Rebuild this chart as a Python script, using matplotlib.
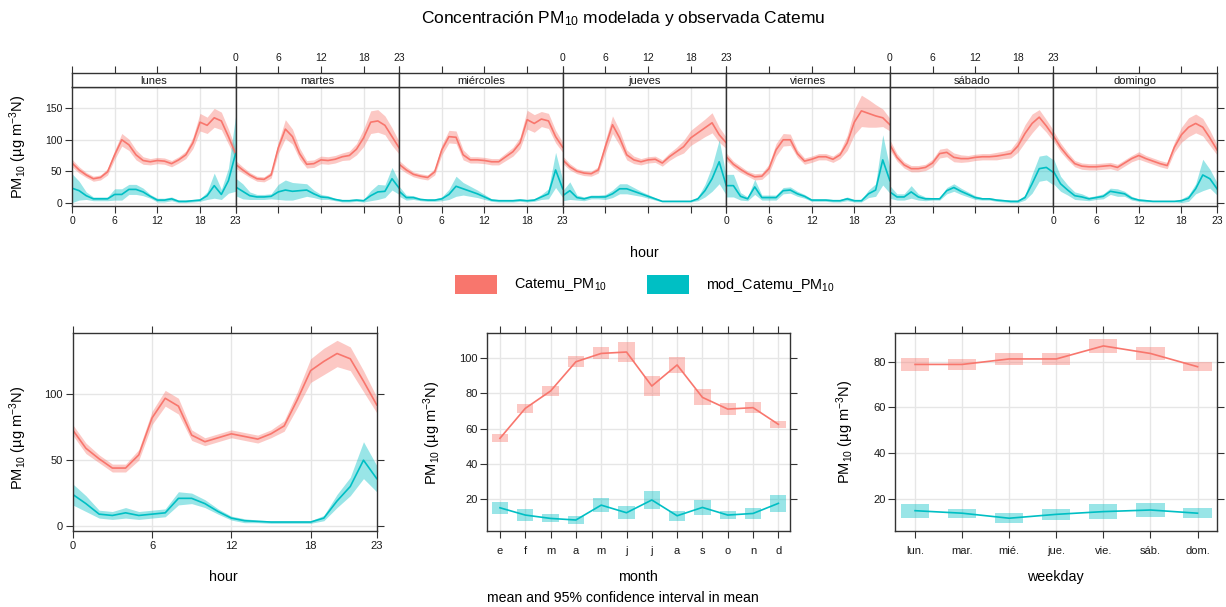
import matplotlib
matplotlib.use("Agg")
import matplotlib.pyplot as plt
from matplotlib.patches import Rectangle
import numpy as np

plt.rcParams['font.family'] = ['Liberation Sans', 'DejaVu Sans']
plt.rcParams['mathtext.fontset'] = 'custom'
plt.rcParams['mathtext.rm'] = 'Liberation Sans'
plt.rcParams['mathtext.it'] = 'Liberation Sans:italic'
plt.rcParams['mathtext.bf'] = 'Liberation Sans:bold'

RED = '#F8766D'
CYAN = '#00BFC4'
BORDER = '#333333'
GRID = '#E6E6E6'

# ---------------- data ----------------
hours = list(range(24))
day_names = ['lunes', 'martes', 'miércoles', 'jueves', 'viernes', 'sábado', 'domingo']

obs_lun = [63, 52, 44, 38, 40, 49, 76, 100, 92, 76, 67, 65, 67, 66, 62, 68, 76, 95, 128, 123, 135, 130, 105, 78]
mod_lun = [23, 19, 11, 6, 6, 6, 13, 13, 21, 21, 17, 10, 4, 4, 6, 2, 2, 3, 4, 11, 27, 13, 35, 78]
obs_mar = [61, 52, 44, 38, 37, 44, 87, 117, 105, 78, 61, 62, 68, 67, 69, 73, 75, 85, 103, 128, 130, 123, 105, 87]
mod_mar = [25, 18, 11, 9, 9, 10, 17, 20, 18, 19, 20, 14, 9, 8, 5, 3, 3, 4, 3, 11, 17, 18, 38, 23]
obs_mie = [61, 52, 45, 42, 40, 49, 84, 105, 104, 76, 68, 68, 67, 65, 65, 73, 81, 95, 132, 126, 133, 130, 105, 88]
mod_mie = [18, 8, 8, 5, 4, 4, 6, 13, 26, 22, 18, 14, 9, 4, 3, 3, 3, 4, 3, 4, 9, 14, 52, 22]
obs_jue = [68, 57, 50, 47, 46, 52, 89, 124, 103, 76, 68, 65, 68, 69, 63, 73, 81, 89, 103, 111, 119, 127, 108, 95]
mod_jue = [11, 19, 8, 6, 9, 9, 9, 14, 22, 22, 18, 14, 10, 6, 2, 2, 2, 2, 2, 6, 19, 38, 65, 27]
obs_vie = [73, 61, 53, 46, 41, 42, 54, 84, 100, 100, 78, 66, 69, 73, 73, 69, 76, 95, 128, 146, 142, 138, 135, 124]
mod_vie = [27, 27, 10, 6, 25, 8, 8, 8, 19, 20, 14, 10, 4, 4, 4, 3, 3, 6, 3, 3, 14, 20, 68, 35]
obs_sab = [92, 72, 60, 54, 54, 56, 63, 78, 80, 72, 70, 70, 72, 73, 73, 74, 76, 78, 90, 110, 126, 136, 122, 106]
mod_sab = [17, 9, 9, 17, 9, 6, 6, 6, 19, 24, 18, 13, 8, 6, 6, 4, 3, 2, 2, 8, 30, 54, 56, 48]
obs_dom = [106, 88, 74, 62, 58, 57, 57, 58, 59, 56, 63, 70, 75, 70, 66, 62, 59, 88, 108, 120, 126, 120, 103, 84]
mod_dom = [50, 30, 20, 11, 9, 6, 8, 10, 18, 16, 14, 7, 4, 3, 2, 2, 2, 2, 3, 7, 22, 44, 38, 22]

# 95% CI half-widths
obs_lun_ci = [6, 5, 4, 4, 4, 5, 7, 10, 9, 8, 6, 5, 5, 5, 5, 5, 6, 9, 14, 13, 15, 14, 12, 8]
mod_lun_ci = [23, 15, 6, 3, 3, 3, 9, 9, 8, 8, 6, 3, 3, 3, 3, 2, 2, 2, 2, 6, 20, 8, 20, 60]
obs_mar_ci = [6, 5, 4, 4, 4, 5, 9, 15, 12, 9, 6, 6, 6, 6, 6, 6, 7, 9, 14, 18, 18, 15, 14, 10]
mod_mar_ci = [14, 12, 6, 4, 4, 4, 12, 16, 14, 12, 10, 6, 4, 3, 2, 2, 2, 2, 2, 8, 12, 10, 18, 10]
obs_mie_ci = [6, 5, 4, 4, 4, 5, 8, 10, 10, 8, 5, 5, 5, 5, 5, 6, 7, 9, 15, 14, 12, 12, 10, 8]
mod_mie_ci = [8, 4, 3, 2, 2, 2, 3, 8, 16, 10, 8, 6, 4, 2, 2, 2, 2, 2, 2, 2, 4, 8, 28, 14]
obs_jue_ci = [6, 5, 4, 4, 4, 5, 10, 14, 12, 8, 6, 5, 5, 5, 5, 6, 7, 10, 12, 13, 14, 16, 12, 9]
mod_jue_ci = [8, 14, 4, 3, 3, 3, 4, 6, 8, 8, 6, 4, 3, 2, 1, 1, 1, 1, 1, 3, 10, 20, 35, 15]
obs_vie_ci = [6, 5, 5, 4, 5, 5, 7, 10, 10, 9, 6, 5, 5, 5, 5, 5, 6, 12, 20, 25, 22, 18, 14, 10]
mod_vie_ci = [18, 18, 6, 3, 12, 4, 4, 4, 5, 5, 4, 3, 2, 2, 2, 2, 2, 3, 2, 2, 6, 10, 40, 20]
obs_sab_ci = [8, 6, 5, 5, 5, 5, 6, 7, 7, 7, 6, 5, 5, 5, 5, 6, 6, 7, 10, 14, 15, 12, 10, 9]
mod_sab_ci = [10, 5, 5, 10, 5, 3, 2, 2, 5, 6, 5, 4, 3, 2, 2, 2, 2, 2, 2, 4, 15, 20, 20, 20]
obs_dom_ci = [8, 7, 6, 5, 5, 5, 5, 5, 5, 5, 5, 5, 6, 5, 5, 5, 5, 8, 12, 15, 15, 14, 12, 8]
mod_dom_ci = [20, 12, 8, 6, 5, 3, 3, 4, 5, 6, 4, 3, 2, 2, 1, 1, 1, 1, 3, 5, 8, 25, 15, 10]

# hourly (all days)
obs_hour = [73, 59, 51, 44, 44, 54, 82, 97, 91, 69, 64, 67, 70, 68, 66, 70, 76, 96, 118, 125, 131, 127, 110, 92]
obs_hour_ci = [4, 4, 3, 3, 3, 4, 5, 6, 6, 4, 3, 3, 3, 3, 3, 3, 4, 6, 9, 10, 10, 9, 8, 6]
mod_hour = [24, 17, 9, 8, 10, 8, 9, 10, 21, 21, 17, 11, 6, 4, 3.5, 3, 3, 3, 3, 6, 19, 30, 50, 36]
mod_hour_ci = [8, 6, 3, 3, 4, 3, 3, 3, 5, 4, 3, 2, 1.5, 1.5, 1, 1, 1, 1, 1, 2, 5, 7, 14, 10]

# monthly
months = ['e', 'f', 'm', 'a', 'm', 'j', 'j', 'a', 's', 'o', 'n', 'd']
obs_month = [54.5, 71.4, 81.2, 97.7, 102.4, 103.2, 84.0, 95.9, 77.6, 71.0, 71.8, 62.4]
obs_month_ci = [2.2, 2.5, 2.8, 3.0, 3.4, 5.8, 5.8, 4.7, 4.5, 3.2, 3.1, 1.8]
mod_month = [15.3, 11.2, 9.3, 8.4, 16.8, 12.5, 19.7, 10.8, 15.5, 11.2, 12.1, 17.8]
mod_month_ci = [3.5, 3.5, 2.3, 2.3, 4.0, 3.8, 4.9, 2.8, 4.0, 2.3, 3.1, 4.9]

# weekday
weekdays = ['lun.', 'mar.', 'mié.', 'jue.', 'vie.', 'sáb.', 'dom.']
obs_wday = [78.8, 78.8, 81.2, 81.2, 86.9, 83.6, 77.8]
obs_wday_ci = [2.9, 2.5, 2.6, 2.8, 2.9, 2.8, 2.0]
mod_wday = [14.7, 13.6, 11.4, 13.1, 14.3, 15.0, 13.6]
mod_wday_ci = [3.1, 2.0, 2.2, 2.3, 3.4, 3.1, 2.3]

obs_days = [obs_lun, obs_mar, obs_mie, obs_jue, obs_vie, obs_sab, obs_dom]
mod_days = [mod_lun, mod_mar, mod_mie, mod_jue, mod_vie, mod_sab, mod_dom]
obs_days_ci = [obs_lun_ci, obs_mar_ci, obs_mie_ci, obs_jue_ci, obs_vie_ci, obs_sab_ci, obs_dom_ci]
mod_days_ci = [mod_lun_ci, mod_mar_ci, mod_mie_ci, mod_jue_ci, mod_vie_ci, mod_sab_ci, mod_dom_ci]

# ---------------- figure ----------------
W, H = 1226, 607
fig = plt.figure(figsize=(W / 100, H / 100), dpi=100)


def ax_px(l, t, r, b):
    return fig.add_axes([l / W, 1 - b / H, (r - l) / W, (b - t) / H])


def ftext(x, y, s, **kw):
    return fig.text(x / W, 1 - y / H, s, **kw)


YLAB = 'PM$_{10}$ (µg m$^{-3}$N)'
LAB_FS = 10.3
YLAB_FS = 10.5
TLEN = 5.0


def base_style(ax, fs=8):
    for s in ax.spines.values():
        s.set_color(BORDER)
        s.set_linewidth(1.0)
    ax.tick_params(direction='out', length=TLEN, width=0.8, color=BORDER,
                   labelsize=fs, labelcolor='#1a1a1a', pad=2)
    ax.set_axisbelow(True)


def band(ax, x, m, ci, color):
    m = np.asarray(m, float)
    ci = np.asarray(ci, float)
    lo = np.clip(m - ci, 0, None)
    hi = m + ci
    ax.fill_between(x, lo, hi, color=color, alpha=0.4, lw=0)
    ax.plot(x, m, color=color, lw=1.2)


# ---- top: day x hour ----
left0, right0 = 72, 1217
pw = (right0 - left0) / 7
htick = [0, 6, 12, 18, 23]
for d in range(7):
    l = left0 + d * pw
    r = l + pw
    ax = ax_px(l, 87, r, 206)
    base_style(ax, 7.5)
    for xv in [6, 12, 18]:
        ax.axvline(xv, color=GRID, lw=1, zorder=0)
    for yv in [0, 50, 100, 150]:
        ax.axhline(yv, color=GRID, lw=1, zorder=0)
    band(ax, hours, obs_days[d], obs_days_ci[d], RED)
    band(ax, hours, mod_days[d], mod_days_ci[d], CYAN)
    ax.set_xlim(0, 23)
    ax.set_ylim(-5.4, 184)
    ax.set_xticks(htick)
    if d % 2 == 0:
        ax.set_xticklabels([str(v) for v in htick])
    else:
        ax.set_xticklabels([])
    ax.set_yticks([0, 50, 100, 150])
    if d == 0:
        ax.tick_params(axis='y', left=True, right=False, labelleft=True)
    elif d == 6:
        ax.tick_params(axis='y', left=False, right=True, labelleft=False, labelright=False)
    else:
        ax.tick_params(axis='y', left=False, right=False, labelleft=False)
    # strip
    sx = ax_px(l, 73, r, 87)
    base_style(sx, 7.5)
    sx.set_xlim(0, 23)
    sx.set_ylim(0, 1)
    sx.set_yticks([])
    sx.set_xticks(htick)
    sx.tick_params(axis='x', bottom=False, top=True, labelbottom=False,
                   labeltop=(d % 2 == 1))
    sx.text(11.5, 0.45, day_names[d], ha='center', va='center', fontsize=8, color='#1a1a1a')

ftext(18, 147, YLAB, rotation=90, ha='center', va='center', fontsize=YLAB_FS)
ftext(644, 253, 'hour', ha='center', va='center', fontsize=LAB_FS)
ftext(623, 18, 'Concentración PM$_{10}$ modelada y observada Catemu',
      ha='center', va='center', fontsize=12.5)

# legend
fig.add_artist(Rectangle((455 / W, 1 - 294 / H), 42 / W, 19 / H, transform=fig.transFigure,
                         facecolor=RED, edgecolor='none'))
ftext(514, 285, 'Catemu_PM$_{10}$', ha='left', va='center', fontsize=10.4)
fig.add_artist(Rectangle((647 / W, 1 - 294 / H), 42 / W, 19 / H, transform=fig.transFigure,
                         facecolor=CYAN, edgecolor='none'))
ftext(706, 285, 'mod_Catemu_PM$_{10}$', ha='left', va='center', fontsize=10.4)

# ---- bottom-left: hour ----
ax = ax_px(72.7, 332.7, 376.7, 531)
base_style(ax)
for xv in [6, 12, 18]:
    ax.axvline(xv, color=GRID, lw=1, zorder=0)
for yv in [0, 50, 100]:
    ax.axhline(yv, color=GRID, lw=1, zorder=0)
band(ax, hours, obs_hour, obs_hour_ci, RED)
band(ax, hours, mod_hour, mod_hour_ci, CYAN)
ax.set_xlim(0, 23)
ax.set_ylim(-3.8, 146.8)
ax.set_xticks(htick)
ax.set_yticks([0, 50, 100])
ax.tick_params(top=True, right=True)
ftext(223, 577, 'hour', ha='center', va='center', fontsize=LAB_FS)
ftext(18, 438, YLAB, rotation=90, ha='center', va='center', fontsize=YLAB_FS)


def box_panel(ax, labels, obs, obs_ci, mod, mod_ci, hw):
    x = np.arange(len(labels))
    for xv in x:
        ax.axvline(xv, color=GRID, lw=1, zorder=0)
    for series, ci, col in [(obs, obs_ci, RED), (mod, mod_ci, CYAN)]:
        for xi, m, c in zip(x, series, ci):
            ax.add_patch(Rectangle((xi - hw, m - c), 2 * hw, 2 * c, facecolor=col,
                                   alpha=0.4, edgecolor='none'))
        ax.plot(x, series, color=col, lw=1.2)
    ax.set_xticks(x)
    ax.set_xticklabels(labels)
    ax.tick_params(top=True, right=True)


# ---- bottom-middle: month ----
ax = ax_px(487.3, 332.7, 790, 531)
base_style(ax)
for yv in [20, 40, 60, 80, 100]:
    ax.axhline(yv, color=GRID, lw=1, zorder=0)
box_panel(ax, months, obs_month, obs_month_ci, mod_month, mod_month_ci, 0.32)
ax.set_xlim(-0.5, 11.46)
ax.set_ylim(2.2, 114.1)
ax.set_yticks([20, 40, 60, 80, 100])
ax.tick_params(axis='x', pad=6)
ftext(638, 577, 'month', ha='center', va='center', fontsize=LAB_FS)
ftext(432, 433, YLAB, rotation=90, ha='center', va='center', fontsize=YLAB_FS)

# ---- bottom-right: weekday ----
ax = ax_px(895.3, 332.7, 1217.3, 531)
base_style(ax)
for yv in [20, 40, 60, 80]:
    ax.axhline(yv, color=GRID, lw=1, zorder=0)
box_panel(ax, weekdays, obs_wday, obs_wday_ci, mod_wday, mod_wday_ci, 0.3)
ax.set_xlim(-0.42, 6.42)
ax.set_ylim(5.8, 92.7)
ax.set_yticks([20, 40, 60, 80])
ax.tick_params(axis='x', pad=6)
ftext(1055, 577, 'weekday', ha='center', va='center', fontsize=LAB_FS)
ftext(845, 432, YLAB, rotation=90, ha='center', va='center', fontsize=YLAB_FS)

ftext(623, 598, 'mean and 95% confidence interval in mean',
      ha='center', va='center', fontsize=10.2)

fig.savefig('out.png', dpi=100)
